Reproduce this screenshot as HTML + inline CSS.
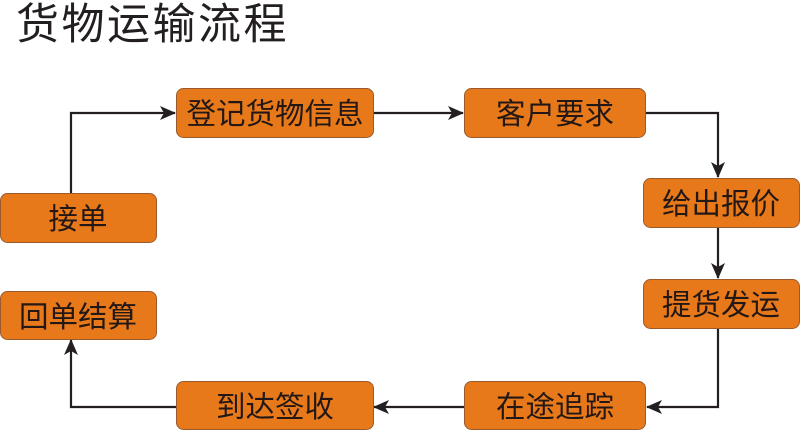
<!DOCTYPE html>
<html><head><meta charset="utf-8">
<style>
html,body{margin:0;padding:0;background:#fff;}
body{width:800px;height:430px;overflow:hidden;}
svg{display:block;}
text{font-family:"Liberation Sans","Noto Sans CJK SC",sans-serif;}
</style></head>
<body>
<svg width="800" height="430" viewBox="0 0 800 430" xmlns="http://www.w3.org/2000/svg">
<defs>
<marker id="ah" markerWidth="16" markerHeight="14" refX="15" refY="7" orient="auto" markerUnits="userSpaceOnUse">
<path d="M0,0 L16,7 L0,14 L4,7 Z" fill="#231f20"/>
</marker>
</defs>
<text x="16" y="39" font-size="43" fill="#231f20" letter-spacing="2.5">货物运输流程</text>

<g fill="none" stroke="#231f20" stroke-width="2.2">
<polyline points="71,193 71,113 175,113" marker-end="url(#ah)"/>
<polyline points="374,113 463,113" marker-end="url(#ah)"/>
<polyline points="646,113 718,113 718,177" marker-end="url(#ah)"/>
<polyline points="718,228 718,278" marker-end="url(#ah)"/>
<polyline points="718,328 718,407 647,407" marker-end="url(#ah)"/>
<polyline points="464,407 374,407" marker-end="url(#ah)"/>
<polyline points="176,407 71,407 71,340" marker-end="url(#ah)"/>
</g>

<g fill="#e8791a" stroke="#9b5a2c" stroke-width="1">
<rect x="176.5" y="88.5" width="197" height="49" rx="7"/>
<rect x="464.5" y="88.5" width="181" height="49" rx="7"/>
<rect x="643.5" y="178.5" width="156" height="49" rx="7"/>
<rect x="643.5" y="279.5" width="156" height="49" rx="7"/>
<rect x="464.5" y="381.5" width="181" height="48" rx="7"/>
<rect x="176.5" y="381.5" width="197" height="48" rx="7"/>
<rect x="0.5" y="291.5" width="156" height="48" rx="7"/>
<rect x="0.5" y="193.5" width="156" height="49" rx="7"/>
</g>

<g font-size="29.5" fill="#231815" text-anchor="middle">
<text x="275" y="124">登记货物信息</text>
<text x="555" y="124">客户要求</text>
<text x="721" y="214">给出报价</text>
<text x="721" y="315">提货发运</text>
<text x="555" y="417">在途追踪</text>
<text x="275" y="417">到达签收</text>
<text x="78" y="327">回单结算</text>
<text x="78" y="229">接单</text>
</g>
</svg>
</body></html>
